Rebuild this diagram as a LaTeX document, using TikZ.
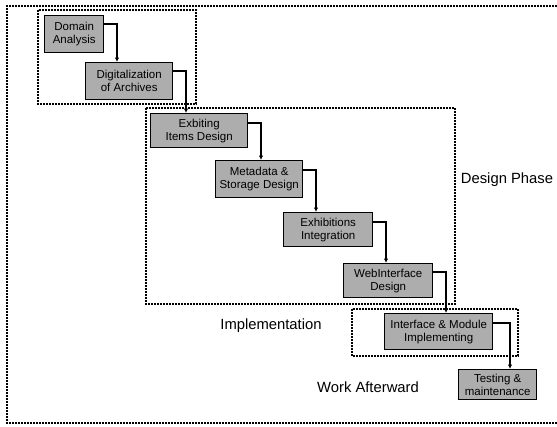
\documentclass[tikz,border=0pt]{standalone}
\usepackage{fontspec}
\setmainfont{Liberation Sans}
\usetikzlibrary{arrows.meta,calc}
\begin{document}
\begin{tikzpicture}[x=1pt,y=-1pt,
  grp/.style={draw, dash pattern=on 2pt off 1pt, line width=1.1pt},
  task/.style={draw, line width=1.4pt, fill=black!32, font=\fontsize{11.5}{13}\selectfont, align=center, inner sep=0pt, anchor=north west},
  flow/.style={line width=1.1pt, -{Latex[length=4.5pt,width=4.5pt]}},
  lbl/.style={font=\fontsize{14.8}{17}\selectfont}]
\useasboundingbox (0,0) rectangle (557,426);
% outer and group frames
\draw[grp] (557,6) -- (7,6) -- (7,423) -- (557,423);
\draw[grp] (38,10) rectangle (196,104);
\draw[grp] (146,108) rectangle (455,304);
\draw[grp] (352,309) rectangle (518,356);
% tasks
\node[task, minimum width=59pt, minimum height=37pt] (da) at (44,15) {Domain\\Analysis};
\node[task, minimum width=87pt, minimum height=37pt] (dg) at (85,62) {Digitalization\\of Archives};
\node[task, minimum width=97pt, minimum height=34pt] (ex) at (150,113) {Exbiting\\Items Design};
\node[task, minimum width=87pt, minimum height=37pt] (md) at (215,160) {Metadata \&\\Storage Design};
\node[task, minimum width=89pt, minimum height=34pt] (eh) at (283,212) {Exhibitions\\Integration};
\node[task, minimum width=89pt, minimum height=34pt] (wi) at (343,263) {WebInterface\\Design};
\node[task, minimum width=108pt, minimum height=36pt] (im) at (384,313) {Interface \& Module\\Implementing};
\node[task, minimum width=78pt, minimum height=30pt] (ts) at (458,369) {Testing \&\\maintenance};
% flows
\draw[flow] ([yshift=-9pt]da.north east) -| ([xshift=32pt]dg.north west);
\draw[flow] ([yshift=-9pt]dg.north east) -| ([xshift=36pt]ex.north west);
\draw[flow] ([yshift=-10pt]ex.north east) -| ([xshift=46pt]md.north west);
\draw[flow] ([yshift=-10pt]md.north east) -| ([xshift=33pt]eh.north west);
\draw[flow] ([yshift=-10pt]eh.north east) -| ([xshift=43pt]wi.north west);
\draw[flow] ([yshift=-9pt]wi.north east) -| ([xshift=62pt]im.north west);
\draw[flow] ([yshift=-10pt]im.north east) -| ([xshift=52pt]ts.north west);
% labels
\node[lbl] (dp) at (507,180) {Design Phase};
\node[lbl] (ip) at (271,326) {Implementation};
\node[lbl] (wa) at (368,387) {Work Afterward};
\end{tikzpicture}
\end{document}
